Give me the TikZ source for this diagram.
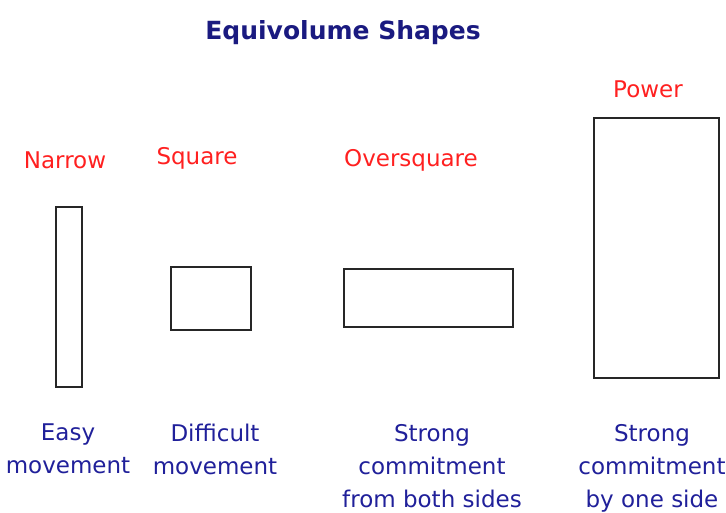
\documentclass[tikz,border=0pt]{standalone}
\usepackage{fontspec}
\setmainfont{DejaVu Sans}
\definecolor{navy}{HTML}{1A1A80}
\definecolor{tblue}{HTML}{20209A}
\definecolor{lred}{HTML}{FF2020}
\tikzset{
  shapebox/.style={draw=black!85, line width=1.6pt},
  lbl/.style={text=lred, font=\fontsize{23}{26}\selectfont, inner sep=0pt},
  desc/.style={text=tblue, font=\fontsize{23}{33}\selectfont, align=center, inner sep=0pt, anchor=north},
  ttl/.style={text=navy, font=\fontsize{25}{28}\selectfont\bfseries, inner sep=0pt}
}
\begin{document}
\begin{tikzpicture}[x=1pt,y=-1pt]
\useasboundingbox (0,0) rectangle (726,513);
\node[ttl] (title) at (343,33) {Equivolume Shapes};
\node[lbl] (lnarrow) at (65,160) {Narrow};
\node[lbl] (lsquare) at (197,158) {Square};
\node[lbl] (lover) at (411,160) {Oversquare};
\node[lbl] (lpower) at (648,89) {Power};
\draw[shapebox] (56,207) rectangle (82,387);
\draw[shapebox] (171,267) rectangle (251,330);
\draw[shapebox] (344,269) rectangle (513,327);
\draw[shapebox] (594,118) rectangle (719,378);
\node[desc] (deasy) at (68,424) {Easy\\movement};
\node[desc] (ddiff) at (215,424) {Difficult\\movement};
\node[desc] (dover) at (432,424) {Strong\\commitment\\from both sides};
\node[desc] (dpower) at (652,424) {Strong\\commitment\\by one side};
\end{tikzpicture}
\end{document}
